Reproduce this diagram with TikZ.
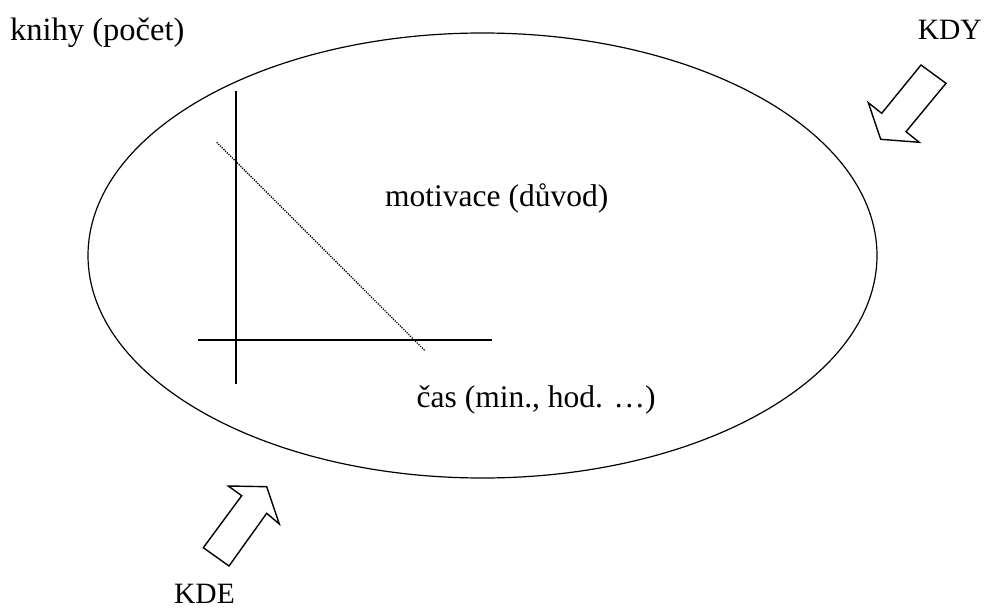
\documentclass[tikz,border=0pt]{standalone}
\usepackage{fontspec}
\setmainfont{Liberation Serif}
\usetikzlibrary{shapes.geometric}
\begin{document}
\begin{tikzpicture}[x=1pt,y=-1pt,
  lbl/.style={inner sep=0pt,font=\fontsize{31.5}{36}\selectfont},
  caps/.style={inner sep=0pt,font=\fontsize{29.5}{34}\selectfont},
  axis/.style={line width=1.7pt},
  bigarrow/.style={line width=1.4pt,line join=miter,fill=white}]
\useasboundingbox (0,0) rectangle (989,610);
\node[draw,line width=1.2pt,ellipse,minimum width=789,minimum height=445,inner sep=0pt] (ell) at (482.5,255.5) {};
% axes
\coordinate (vt) at (235.7,91);
\coordinate (vb) at (235.7,384);
\coordinate (hl) at (198,340);
\coordinate (hr) at (492,340);
\draw[axis] (vt) -- (vb);
\draw[axis] (hl) -- (hr);
\coordinate (dt) at (216.7,142.3);
\coordinate (db) at (425,350.7);
\draw[line width=1.3pt,dash pattern=on 1.2pt off 1.2pt] (dt) -- (db);
% arrows
\draw[bigarrow] (921,65) -- (946,83.3) -- (906,131.7) -- (919.3,142.3) -- (880.7,139.3) -- (868.3,102.7) -- (881.7,113.3) -- cycle;
\draw[bigarrow] (203.3,547.7) -- (229,566) -- (266.7,513.3) -- (279.3,524) -- (266.7,486.7) -- (228.3,486) -- (241.7,495.7) -- cycle;
% labels
\node[inner sep=0pt,font=\fontsize{32.5}{37}\selectfont,anchor=base west] (kn) at (10,40.5) {knihy (počet)};
\node[caps,anchor=base east] (kdy) at (982,40) {KDY};
\node[lbl,anchor=base west] (mot) at (385,206) {motivace (důvod)};
\node[lbl,anchor=base west] (cas) at (416.5,407) {čas (min., hod. …)};
\node[caps,anchor=base west] (kde) at (174,603) {KDE};
\end{tikzpicture}
\end{document}
